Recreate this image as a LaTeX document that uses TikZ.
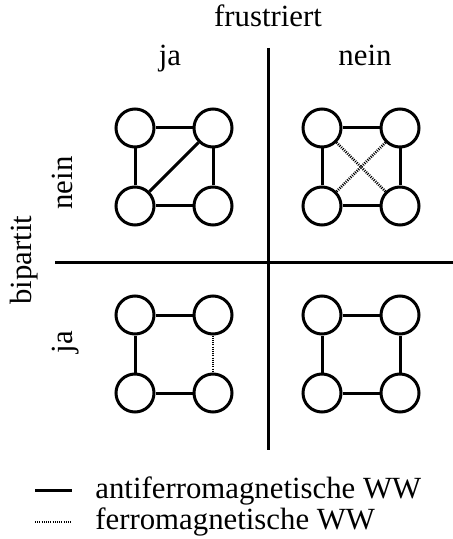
\documentclass[tikz,border=0pt]{standalone}
\usepackage{fontspec}
\setmainfont{Liberation Serif}
\usetikzlibrary{positioning}

\tikzset{
  spin/.style={circle, draw, line width=1.5pt, minimum size=19pt, inner sep=0pt},
  afm/.style={line width=1.5pt},
  fm/.style={line width=1.3pt, dash pattern=on 0.5pt off 0.6pt},
  lbl/.style={font=\fontsize{15.4}{18}\selectfont, inner sep=0pt},
}

\begin{document}
\begin{tikzpicture}[x=0.5pt, y=-0.5pt]
  \useasboundingbox (0,0) rectangle (453,539);
  % Axes
  \coordinate (vtop) at (268,48);
  \coordinate (vbot) at (268,450);
  \coordinate (hleft) at (55,262);
  \coordinate (hright) at (453,262);
  \draw[afm] (vtop) -- (vbot);
  \draw[afm] (hleft) -- (hright);
  % Labels
  \node[lbl, anchor=base] (frus) at (268,27) {frustriert};
  \node[lbl, anchor=base] (fja) at (170,66) {ja};
  \node[lbl, anchor=base] (fnein) at (365,66) {nein};
  \node[lbl, anchor=base, rotate=90] (bip) at (31,260) {bipartit};
  \node[lbl, anchor=base, rotate=90] (bnein) at (72,183) {nein};
  \node[lbl, anchor=base, rotate=90] (bja) at (72,342) {ja};
  % Spins
  \foreach \q/\x/\y in {a/135/128, b/322/128, c/135/315, d/322/315} {
    \node[spin] (\q1) at (\x,\y) {};
    \node[spin] (\q2) at (\x+78,\y) {};
    \node[spin] (\q3) at (\x,\y+78) {};
    \node[spin] (\q4) at (\x+78,\y+78) {};
  }
  % Bonds
  \foreach \q in {a,b,d} {
    \draw[afm] (\q1) -- (\q2) (\q1) -- (\q3) (\q2) -- (\q4) (\q3) -- (\q4);
  }
  \draw[afm] (a3) -- (a2);
  \draw[fm] (b1) -- (b4) (b2) -- (b3);
  \draw[afm] (c1) -- (c2) (c1) -- (c3) (c3) -- (c4);
  \draw[fm] (c2) -- (c4);
  % Legend
  \coordinate (l1a) at (35,490);
  \coordinate (l1b) at (72,490);
  \coordinate (l2a) at (35,522);
  \coordinate (l2b) at (72,522);
  \draw[afm] (l1a) -- (l1b);
  \draw[fm] (l2a) -- (l2b);
  \node[lbl, anchor=base west] (tafm) at (95,498) {antiferromagnetische WW};
  \node[lbl, anchor=base west] (tfm) at (95,529) {ferromagnetische WW};
\end{tikzpicture}
\end{document}
